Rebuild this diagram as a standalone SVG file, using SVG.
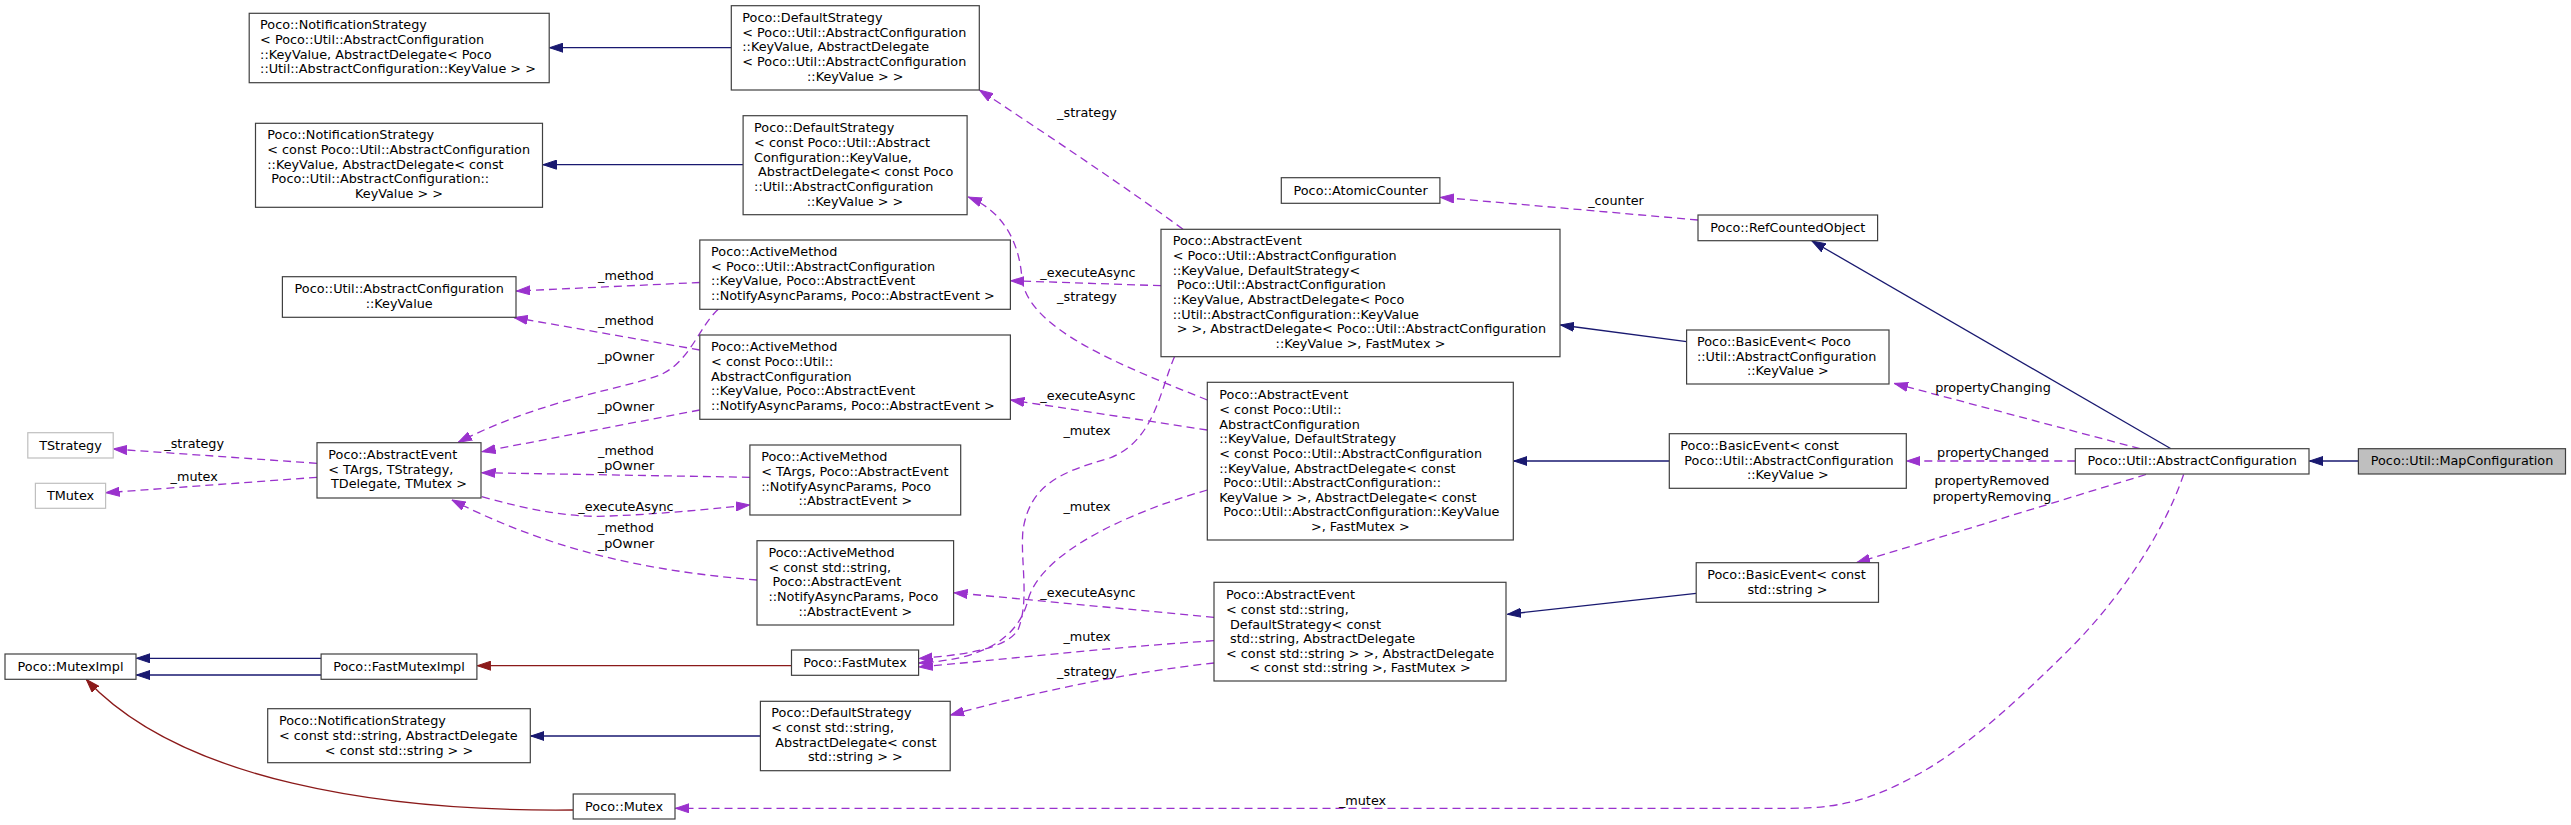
<svg xmlns="http://www.w3.org/2000/svg" width="2571" height="825" viewBox="0 0 2571 825">
<style>
text{font-family:"DejaVu Sans","Liberation Sans",sans-serif;font-size:12.8px;fill:#000}
.m{text-anchor:middle}
.n rect{fill:#fff;stroke:#404040;stroke-width:1.2}
.g rect{fill:#fff;stroke:#bfbfbf;stroke-width:1.2}
.h rect{fill:#bfbfbf;stroke:#404040;stroke-width:1.2}
.e path{fill:none;stroke-width:1.3}
.inh{stroke:#191970;marker-end:url(#aN)}
.use{stroke:#9a32cd;stroke-dasharray:8,5;marker-end:url(#aP)}
.priv{stroke:#8b1a1a;marker-end:url(#aR)}
</style>
<defs>
<marker id="aN" markerUnits="userSpaceOnUse" markerWidth="14" markerHeight="10" viewBox="0 0 14 10" refX="13.5" refY="5" orient="auto"><path d="M0,0.5 L13.5,5 L0,9.5 z" fill="#191970" stroke="#191970"/></marker>
<marker id="aP" markerUnits="userSpaceOnUse" markerWidth="14" markerHeight="10" viewBox="0 0 14 10" refX="13.5" refY="5" orient="auto"><path d="M0,0.5 L13.5,5 L0,9.5 z" fill="#9a32cd" stroke="#9a32cd"/></marker>
<marker id="aR" markerUnits="userSpaceOnUse" markerWidth="14" markerHeight="10" viewBox="0 0 14 10" refX="13.5" refY="5" orient="auto"><path d="M0,0.5 L13.5,5 L0,9.5 z" fill="#8b1a1a" stroke="#8b1a1a"/></marker>
</defs>
<rect width="2571" height="825" fill="#fff"/>

<g id="connectors" class="e">
  <path class="inh" d="M731.3,47.7 L549.5,47.7"/>
  <path class="inh" d="M743.1,164.7 L543,164.7"/>
  <path class="inh" d="M1686.6,341.7 L1560.5,325"/>
  <path class="inh" d="M1669.3,461 L1513.8,461"/>
  <path class="inh" d="M1696.2,593.3 L1507.5,614.3"/>
  <path class="inh" d="M2171,448.7 L1812,241"/>
  <path class="inh" d="M2358.4,461 L2309.5,461"/>
  <path class="inh" d="M321.1,658.3 L136.5,658.3"/>
  <path class="inh" d="M321.1,675 L136.5,675"/>
  <path class="inh" d="M760.4,736 L530.8,736"/>
  <path class="priv" d="M791.5,665.7 L477.3,665.7"/>
  <path class="priv" d="M573.2,810 C380,812 180,780 86.3,679.5"/>

  <path class="use" d="M1183,229.3 C1130,190 1040,130 979.5,90"/>
  <text class="m" x="1087" y="116.5">_strategy</text>
  <path class="use" d="M1207.3,400 C1120,365 1030,330 1022,280 C1020,245 1005,212 968.5,197"/>
  <text class="m" x="1087" y="300.5">_strategy</text>
  <path class="use" d="M1161,285.7 L1010.8,280.7"/>
  <text class="m" x="1088" y="277.2">_executeAsync</text>
  <path class="use" d="M1207.3,430 L1010.8,400"/>
  <text class="m" x="1088" y="399.5">_executeAsync</text>
  <path class="use" d="M1174.5,356.7 C1160,390 1155,440 1110,458 C1060,472 1030,485 1023,530 C1020,560 1030,600 1018,630 C1005,650 960,655 919,658.5"/>
  <text class="m" x="1087" y="435.2">_mutex</text>
  <path class="use" d="M1207.3,490 C1120,515 1040,555 1028,600 C1018,640 980,660 919,663"/>
  <text class="m" x="1087" y="511.2">_mutex</text>
  <path class="use" d="M1214,617.3 L954,592.7"/>
  <text class="m" x="1088" y="597.2">_executeAsync</text>
  <path class="use" d="M1214,640.7 C1100,648 1000,660 919,667"/>
  <text class="m" x="1087" y="641.2">_mutex</text>
  <path class="use" d="M1214,663 C1130,672 1030,693 950.5,715"/>
  <text class="m" x="1087" y="676.2">_strategy</text>

  <path class="use" d="M317,463.3 L113.5,449"/>
  <text class="m" x="194.2" y="447.8">_strategy</text>
  <path class="use" d="M317,477.3 L106,492.7"/>
  <text class="m" x="194.2" y="480.5">_mutex</text>

  <path class="use" d="M699.8,282.5 L516.5,291"/>
  <text class="m" x="626" y="279.5">_method</text>
  <path class="use" d="M699.8,350 L514,317.5"/>
  <text class="m" x="626" y="325.2">_method</text>
  <path class="use" d="M718.3,309.3 C700,325 690,362 660,375 C630,387 540,400 458.3,442.3"/>
  <text class="m" x="626" y="360.5">_pOwner</text>
  <path class="use" d="M699.8,410 L482,451.7"/>
  <text class="m" x="626" y="411.2">_pOwner</text>
  <path class="use" d="M749.9,477.3 L482,472.7"/>
  <text class="m" x="626" y="455">_method</text>
  <text class="m" x="626" y="469.5">_pOwner</text>
  <path class="use" d="M481.7,496.7 C530,510 570,518 610,516 C660,514 700,510 749.5,505"/>
  <text class="m" x="626" y="511.2">_executeAsync</text>
  <path class="use" d="M757,580 C660,572 560,555 452,500"/>
  <text class="m" x="626" y="532.2">_method</text>
  <text class="m" x="626" y="547.8">_pOwner</text>

  <path class="use" d="M1698,220 L1440.5,197.3"/>
  <text class="m" x="1616" y="205.2">_counter</text>
  <path class="use" d="M2140,448.7 L1894.5,383.5"/>
  <text class="m" x="1993" y="392.2">propertyChanging</text>
  <path class="use" d="M2075.3,461 L1906.8,461"/>
  <text class="m" x="1993" y="457.2">propertyChanged</text>
  <path class="use" d="M2146,474.5 L1856.6,562.7"/>
  <text class="m" x="1992" y="485.2">propertyRemoved</text>
  <text class="m" x="1992" y="500.5">propertyRemoving</text>
  <path class="use" d="M2183.6,474.5 C2165,530 2120,600 2065.3,653.3 C2020,698 1970,745 1920,773.3 C1880,795 1850,808.3 1790,808.3 L675.5,808.3"/>
  <text class="m" x="1362.5" y="804.5">_mutex</text>
</g>

<g id="n_ns1" class="n"><rect x="249.2" y="13.3" width="300" height="69.4"/>
<text><tspan x="260.1" y="29.4">Poco::NotificationStrategy</tspan><tspan x="260.1" y="44">&lt; Poco::Util::AbstractConfiguration</tspan><tspan x="260.1" y="58.7">::KeyValue, AbstractDelegate&lt; Poco</tspan><tspan x="260.1" y="73.3">::Util::AbstractConfiguration::KeyValue &gt; &gt;</tspan></text></g>

<g id="n_ns2" class="n"><rect x="255.5" y="123.3" width="287" height="84"/>
<text><tspan x="267.3" y="139.2">Poco::NotificationStrategy</tspan><tspan x="267.3" y="153.9">&lt; const Poco::Util::AbstractConfiguration</tspan><tspan x="267.3" y="168.5">::KeyValue, AbstractDelegate&lt; const</tspan><tspan x="271.3" y="183.2">Poco::Util::AbstractConfiguration::</tspan><tspan class="m" x="399" y="197.8">KeyValue &gt; &gt;</tspan></text></g>

<g id="n_ds1" class="n"><rect x="731.3" y="5.7" width="248" height="84.3"/>
<text><tspan x="742.3" y="21.9">Poco::DefaultStrategy</tspan><tspan x="742.3" y="36.5">&lt; Poco::Util::AbstractConfiguration</tspan><tspan x="742.3" y="51.2">::KeyValue, AbstractDelegate</tspan><tspan x="742.3" y="65.8">&lt; Poco::Util::AbstractConfiguration</tspan><tspan class="m" x="855.3" y="80.5">::KeyValue &gt; &gt;</tspan></text></g>

<g id="n_ds2" class="n"><rect x="743.1" y="115.7" width="224" height="99"/>
<text><tspan x="754.1" y="132.2">Poco::DefaultStrategy</tspan><tspan x="754.1" y="146.9">&lt; const Poco::Util::Abstract</tspan><tspan x="754.1" y="161.5">Configuration::KeyValue,</tspan><tspan x="758.1" y="176.2">AbstractDelegate&lt; const Poco</tspan><tspan x="754.1" y="190.8">::Util::AbstractConfiguration</tspan><tspan class="m" x="855" y="205.5">::KeyValue &gt; &gt;</tspan></text></g>

<g id="n_keyvalue" class="n"><rect x="282.4" y="276.7" width="233.6" height="40.6"/>
<text class="m"><tspan x="399.2" y="293.3">Poco::Util::AbstractConfiguration</tspan><tspan x="399.2" y="307.9">::KeyValue</tspan></text></g>

<g id="n_am1" class="n"><rect x="699.8" y="240" width="310.6" height="69.3"/>
<text><tspan x="711.1" y="255.9">Poco::ActiveMethod</tspan><tspan x="711.1" y="270.5">&lt; Poco::Util::AbstractConfiguration</tspan><tspan x="711.1" y="285.2">::KeyValue, Poco::AbstractEvent</tspan><tspan x="711.1" y="299.8">::NotifyAsyncParams, Poco::AbstractEvent &gt;</tspan></text></g>

<g id="n_am2" class="n"><rect x="699.8" y="335" width="310.6" height="84.3"/>
<text><tspan x="711.1" y="351.3">Poco::ActiveMethod</tspan><tspan x="711.1" y="365.9">&lt; const Poco::Util::</tspan><tspan x="711.1" y="380.6">AbstractConfiguration</tspan><tspan x="711.1" y="395.2">::KeyValue, Poco::AbstractEvent</tspan><tspan x="711.1" y="409.9">::NotifyAsyncParams, Poco::AbstractEvent &gt;</tspan></text></g>

<g id="n_aet" class="n"><rect x="317" y="442.7" width="164" height="55.3"/>
<text><tspan x="328.3" y="458.8">Poco::AbstractEvent</tspan><tspan x="328.3" y="473.5">&lt; TArgs, TStrategy,</tspan><tspan class="m" x="399" y="488.1">TDelegate, TMutex &gt;</tspan></text></g>

<g id="n_tstrategy" class="g"><rect x="27.8" y="432.7" width="85.4" height="25.3"/>
<text class="m" x="70.5" y="449.5">TStrategy</text></g>

<g id="n_tmutex" class="g"><rect x="35.4" y="483.3" width="70.2" height="25"/>
<text class="m" x="70.5" y="500">TMutex</text></g>

<g id="n_am3" class="n"><rect x="749.9" y="445" width="210.8" height="70"/>
<text><tspan x="761.2" y="461.2">Poco::ActiveMethod</tspan><tspan x="761.2" y="475.9">&lt; TArgs, Poco::AbstractEvent</tspan><tspan x="761.2" y="490.5">::NotifyAsyncParams, Poco</tspan><tspan class="m" x="855.3" y="505.2">::AbstractEvent &gt;</tspan></text></g>

<g id="n_am4" class="n"><rect x="757" y="540.7" width="196.6" height="84.3"/>
<text><tspan x="768.4" y="557">Poco::ActiveMethod</tspan><tspan x="768.4" y="571.6">&lt; const std::string,</tspan><tspan x="772.4" y="586.3">Poco::AbstractEvent</tspan><tspan x="768.4" y="600.9">::NotifyAsyncParams, Poco</tspan><tspan class="m" x="855.3" y="615.6">::AbstractEvent &gt;</tspan></text></g>

<g id="n_fastmutex" class="n"><rect x="791.5" y="650" width="127.1" height="25.3"/>
<text class="m" x="855" y="666.5">Poco::FastMutex</text></g>

<g id="n_ds3" class="n"><rect x="760.4" y="701.3" width="189.8" height="69.4"/>
<text><tspan x="771.3" y="717.4">Poco::DefaultStrategy</tspan><tspan x="771.3" y="732">&lt; const std::string,</tspan><tspan x="775.3" y="746.7">AbstractDelegate&lt; const</tspan><tspan class="m" x="855.3" y="761.3">std::string &gt; &gt;</tspan></text></g>

<g id="n_muteximpl" class="n"><rect x="5" y="654" width="131" height="25.3"/>
<text class="m" x="70.5" y="670.5">Poco::MutexImpl</text></g>

<g id="n_fastmuteximpl" class="n"><rect x="321.1" y="654" width="155.8" height="25.3"/>
<text class="m" x="399" y="670.5">Poco::FastMutexImpl</text></g>

<g id="n_ns3" class="n"><rect x="267.7" y="708.7" width="262.6" height="54"/>
<text><tspan x="279" y="725.2">Poco::NotificationStrategy</tspan><tspan x="279" y="739.8">&lt; const std::string, AbstractDelegate</tspan><tspan class="m" x="399" y="754.5">&lt; const std::string &gt; &gt;</tspan></text></g>

<g id="n_mutex" class="n"><rect x="573.2" y="794" width="101.8" height="25"/>
<text class="m" x="624.1" y="810.5">Poco::Mutex</text></g>

<g id="n_ae1" class="n"><rect x="1161" y="229.3" width="399" height="127.4"/>
<text><tspan x="1172.7" y="245.4">Poco::AbstractEvent</tspan><tspan x="1172.7" y="260.1">&lt; Poco::Util::AbstractConfiguration</tspan><tspan x="1172.7" y="274.7">::KeyValue, DefaultStrategy&lt;</tspan><tspan x="1176.7" y="289.3">Poco::Util::AbstractConfiguration</tspan><tspan x="1172.7" y="304">::KeyValue, AbstractDelegate&lt; Poco</tspan><tspan x="1172.7" y="318.6">::Util::AbstractConfiguration::KeyValue</tspan><tspan x="1176.7" y="333.3">&gt; &gt;, AbstractDelegate&lt; Poco::Util::AbstractConfiguration</tspan><tspan class="m" x="1360.5" y="347.9">::KeyValue &gt;, FastMutex &gt;</tspan></text></g>

<g id="n_ae2" class="n"><rect x="1207.3" y="382.3" width="306" height="157.7"/>
<text><tspan x="1219.3" y="399.3">Poco::AbstractEvent</tspan><tspan x="1219.3" y="413.9">&lt; const Poco::Util::</tspan><tspan x="1219.3" y="428.6">AbstractConfiguration</tspan><tspan x="1219.3" y="443.2">::KeyValue, DefaultStrategy</tspan><tspan x="1219.3" y="457.9">&lt; const Poco::Util::AbstractConfiguration</tspan><tspan x="1219.3" y="472.5">::KeyValue, AbstractDelegate&lt; const</tspan><tspan x="1223.3" y="487.1">Poco::Util::AbstractConfiguration::</tspan><tspan x="1219.3" y="501.8">KeyValue &gt; &gt;, AbstractDelegate&lt; const</tspan><tspan x="1223.3" y="516.4">Poco::Util::AbstractConfiguration::KeyValue</tspan><tspan class="m" x="1360.3" y="531.1">&gt;, FastMutex &gt;</tspan></text></g>

<g id="n_ae3" class="n"><rect x="1214" y="582.3" width="292" height="98.7"/>
<text><tspan x="1226" y="599.2">Poco::AbstractEvent</tspan><tspan x="1226" y="613.8">&lt; const std::string,</tspan><tspan x="1230" y="628.5">DefaultStrategy&lt; const</tspan><tspan x="1230" y="643.1">std::string, AbstractDelegate</tspan><tspan x="1226" y="657.8">&lt; const std::string &gt; &gt;, AbstractDelegate</tspan><tspan class="m" x="1360" y="672.4">&lt; const std::string &gt;, FastMutex &gt;</tspan></text></g>

<g id="n_atomiccounter" class="n"><rect x="1281.3" y="177.7" width="158.6" height="25.6"/>
<text class="m" x="1360.6" y="194.5">Poco::AtomicCounter</text></g>

<g id="n_refcounted" class="n"><rect x="1698" y="215" width="179.6" height="25.7"/>
<text class="m" x="1787.8" y="231.7">Poco::RefCountedObject</text></g>

<g id="n_be_kv" class="n"><rect x="1686.6" y="330" width="202.4" height="54"/>
<text><tspan x="1697" y="346">Poco::BasicEvent&lt; Poco</tspan><tspan x="1697" y="360.7">::Util::AbstractConfiguration</tspan><tspan class="m" x="1787.8" y="375.3">::KeyValue &gt;</tspan></text></g>

<g id="n_be_ckv" class="n"><rect x="1669.3" y="433.7" width="237" height="54.6"/>
<text><tspan x="1680.3" y="450">Poco::BasicEvent&lt; const</tspan><tspan x="1684.3" y="464.6">Poco::Util::AbstractConfiguration</tspan><tspan class="m" x="1787.8" y="479.3">::KeyValue &gt;</tspan></text></g>

<g id="n_be_str" class="n"><rect x="1696.2" y="562.7" width="182.3" height="39.6"/>
<text><tspan x="1707.2" y="578.9">Poco::BasicEvent&lt; const</tspan><tspan class="m" x="1787.4" y="593.5">std::string &gt;</tspan></text></g>

<g id="n_abstractconfiguration" class="n"><rect x="2075.3" y="448.7" width="233.7" height="25.3"/>
<text class="m" x="2192.2" y="465">Poco::Util::AbstractConfiguration</text></g>

<g id="n_mapconfiguration" class="h"><rect x="2358.4" y="448.7" width="207.1" height="25.3"/>
<text class="m" x="2462" y="465">Poco::Util::MapConfiguration</text></g>
</svg>
